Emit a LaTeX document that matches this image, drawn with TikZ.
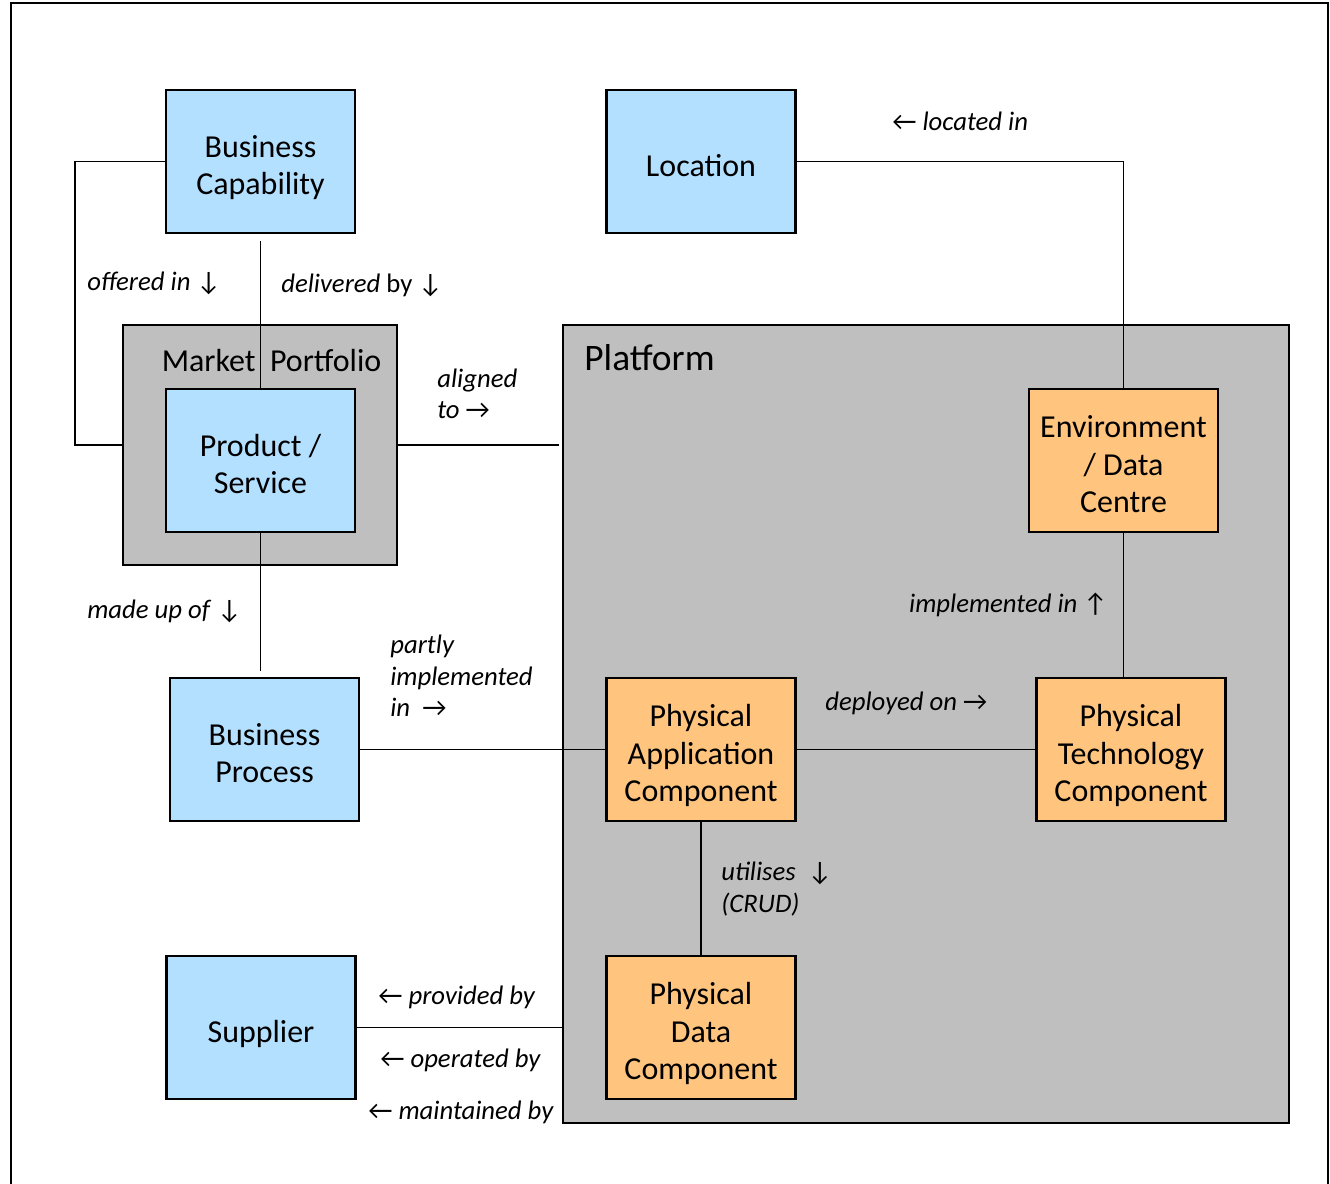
\documentclass[tikz,border=0pt]{standalone}
\usepackage{fontspec}
\setmainfont{Carlito}
\usetikzlibrary{positioning}
\definecolor{bizblue}{RGB}{180,224,255}
\definecolor{physorange}{RGB}{255,197,127}
\definecolor{groupgrey}{RGB}{191,191,191}
% struts so that the box text sits like it does in the slide
\newcommand{\boxlines}[1]{\rule{0pt}{22pt}#1\rule[-5.5pt]{0pt}{5.5pt}}

\begin{document}
\begin{tikzpicture}[x=0.02cm,y=-0.02cm,
  box/.style={rectangle,draw,line width=1.5pt,minimum width=3.78cm,minimum height=2.86cm,
              align=center,inner sep=2pt,font=\fontsize{18.2}{21.5}\selectfont},
  bizbox/.style={box,fill=bizblue},
  physbox/.style={box,fill=physorange},
  group/.style={rectangle,draw,line width=1.5pt,fill=groupgrey,inner sep=0pt},
  lbl/.style={align=left,inner sep=0pt,yshift=-1pt,font=\fontsize{15.2}{18.1}\selectfont},
  link/.style={line width=1pt}]
  \useasboundingbox (0,0) rectangle (1330,1184);
  % frame, open at the bottom
  \draw[line width=1.1pt] (11,1220) |- (1328,3) -- (1328,1220);
  % groups
  \node[group,minimum width=5.48cm,minimum height=4.8cm](mp) at (260,445){};
  \node[group,minimum width=14.52cm,minimum height=15.96cm](plat) at (926,724){};
  \node[anchor=west,inner sep=0pt,font=\fontsize{21.3}{25}\selectfont] (platlbl) at (584,358){Platform};
  \node[inner sep=0pt,font=\fontsize{18.2}{21.5}\selectfont] (mplbl) at (271.5,361){Market\ \ Portfolio};
  % boxes
  \node[bizbox](bc) at (260.5,161.5){\boxlines{Business\\Capability}};
  \node[bizbox](loc) at (701,161.5){\boxlines{Location}};
  \node[bizbox](ps) at (260.5,460.5){\boxlines{Product /\\Service}};
  \node[physbox](env) at (1123.5,460.5){\boxlines{Environment\\/ Data\\Centre}};
  \node[bizbox](bp) at (264.5,749.5){\boxlines{Business\\Process}};
  \node[physbox](pac) at (701,749.5){\boxlines{Physical\\Application\\Component}};
  \node[physbox](ptc) at (1131,749.5){\boxlines{Physical\\Technology\\Component}};
  \node[bizbox](sup) at (261,1027.5){\boxlines{Supplier}};
  \node[physbox](pdc) at (701,1027.5){\boxlines{Physical\\Data\\Component}};
  % connectors
  \draw[link](bc.west)--++(-90,0)|-(mp.west);
  \draw[link]([yshift=-0.14cm]bc.south)--(ps.north);
  \draw[link](mp.east)--([xshift=-0.06cm]mp.east-|plat.west);
  \draw[link](ps.south)--([yshift=0.12cm]ps.south|-bp.north);
  \draw[link](bp.east)--(pac.west);
  \draw[link](pac.east)--(ptc.west);
  \draw[link](pac.south)--(pdc.north);
  \draw[link](env.south)--(env.south|-ptc.north);
  \draw[link](loc.east)-|(env.north);
  \draw[link](sup.east)--(sup.east-|plat.west);
  % labels
  \node[lbl,anchor=west](l1) at (87,282){\textit{offered in} ↓};
  \node[lbl,anchor=west](l2) at (281,284){\textit{delivered} by ↓};
  \node[lbl,anchor=west](l3) at (437,392){\textit{aligned}\\\textit{to} →};
  \node[lbl,anchor=west](l4) at (87,610){\textit{made up of} ↓};
  \node[lbl,anchor=west](l5) at (390,674){\textit{partly}\\\textit{implemented}\\\textit{in}\ \ →};
  \node[lbl,anchor=east](l6) at (1108,603){\textit{implemented in} ↑};
  \node[lbl,anchor=west](l7) at (825,702){\textit{deployed on} →};
  \node[lbl,anchor=west](l8) at (721,887){\textit{utilises}\ \ ↓\\\textit{(CRUD)}};
  \node[lbl,anchor=west](l9) at (378,996){← \textit{provided by}};
  \node[lbl,anchor=west](l10) at (380,1059){← \textit{operated by}};
  \node[lbl,anchor=west](l11) at (368,1111){← \textit{maintained by}};
  \node[lbl,anchor=west](l12) at (892,120){← \textit{located in}};
\end{tikzpicture}
\end{document}
